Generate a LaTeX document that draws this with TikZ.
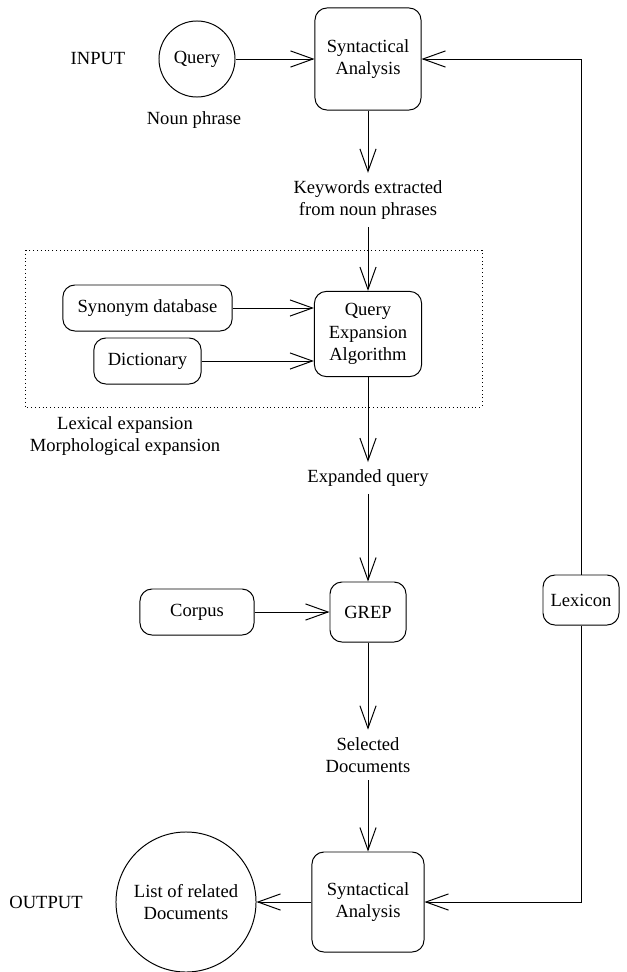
\documentclass[tikz,border=0pt]{standalone}
\usepackage{fontspec}
\setmainfont{Liberation Serif}
\usetikzlibrary{arrows.meta}
\begin{document}
\begin{tikzpicture}[x=0.025cm,y=-0.025cm,line width=0.7pt,
    >={Straight Barb[length=16pt,width=11.5pt]},
    font=\fontsize{13.2}{16}\selectfont,
    box/.style={draw,rounded corners=0.3cm,align=center},
    txt/.style={align=center,inner sep=5pt}]
\useasboundingbox (0,0) rectangle (626,972);

\node (in) at (98,59) {INPUT};
\node[draw,circle,minimum size=1.9cm,inner sep=0pt] (query) at (197,59) {Query};
\node (np) at (194,120) {Noun phrase};
\node[box,minimum width=2.65cm,minimum height=2.55cm] (syn1) at (368,59) {Syntactical\\Analysis};
\draw[->] (query) -- (syn1);

\node[txt] (kw) at (368,200) {Keywords extracted\\from noun phrases};
\draw[->] (syn1) -- (kw);

\draw[dotted] (25,250) rectangle (482,407);
\node[box,minimum width=2.68cm,minimum height=2.13cm] (qea) at (368,334) {Query\\Expansion\\Algorithm};
\node[box,minimum width=4.23cm,minimum height=1.15cm] (syndb) at (147.5,308) {Synonym database};
\node[box,minimum width=2.68cm,minimum height=1.15cm] (dict) at (147.5,361) {Dictionary};
\draw[->] (kw) -- (qea);
\draw[->] (syndb) -- (syndb -| qea.west);
\draw[->] (dict) -- (dict -| qea.west);
\node[align=center] (lexexp) at (125,436) {Lexical expansion\\Morphological expansion};

\node[txt] (eq) at (368,478) {Expanded query};
\draw[->] (qea) -- (eq);

\node[box,minimum width=1.9cm,minimum height=1.5cm] (grep) at (368,612) {GREP};
\node[box,minimum width=2.85cm,minimum height=1.15cm] (corpus) at (197,612) {Corpus};
\draw[->] (eq) -- (grep);
\draw[->] (corpus) -- (grep);

\node[txt] (sel) at (368,755) {Selected\\Documents};
\draw[->] (grep) -- (sel);

\node[box,minimum width=2.8cm,minimum height=2.5cm] (syn2) at (368,902) {Syntactical\\Analysis};
\draw[->] (sel) -- (syn2);
\node[draw,circle,minimum size=3.5cm,inner sep=0pt,align=center] (list) at (186,902) {List of related\\Documents};
\draw[->] (syn2) -- (list);
\node (out) at (46,902) {OUTPUT};

\node[box,minimum width=1.9cm,minimum height=1.25cm] (lex) at (581,600) {Lexicon};
\draw[->] (lex) |- (syn1);
\draw[->] (lex) |- (syn2);
\end{tikzpicture}
\end{document}
